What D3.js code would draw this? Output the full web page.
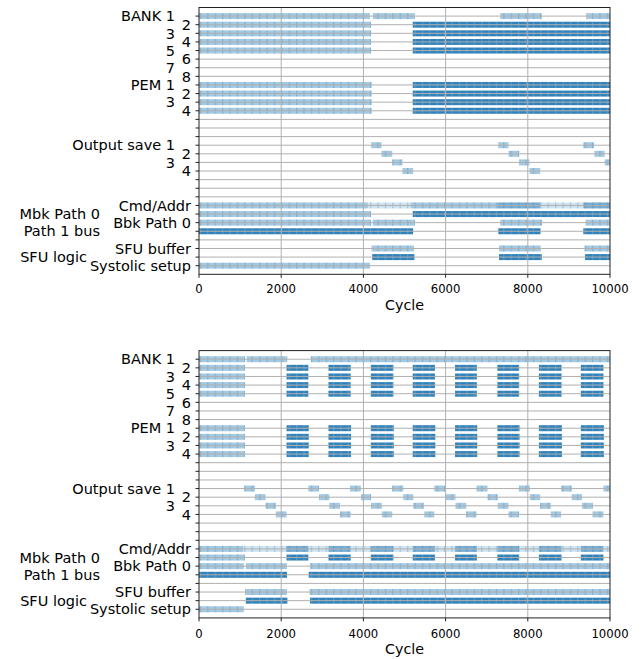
<!DOCTYPE html>
<html>
<head>
<meta charset="utf-8">
<script src="https://cdn.jsdelivr.net/npm/d3@7/dist/d3.min.js"></script>
<style>
  html, body { margin: 0; padding: 0; background: #fff; }
  text { font-family: "DejaVu Sans", sans-serif; fill: #000; }
</style>
</head>
<body>
<svg id="chart" width="642" height="659"></svg>
<script>
// ---------------- DATA ----------------
const rowLabels = ["BANK 1","2","3","4","5","6","7","8","PEM 1","2","3","4","","","",
  "Output save 1","2","3","4","","","","Cmd/Addr","Mbk Path 0","Bbk Path 0","Path 1 bus","",
  "SFU buffer","SFU logic","Systolic setup"];
const xTicks = [0, 2000, 4000, 6000, 8000, 10000];
const xLabel = "Cycle";

// intervals: [start, end, level]  level: f=faint, l=light, m=medium, d=dark
// ---- top panel ----
const topBank1 = [[0,4160,"l"],[4230,5250,"l"],[7330,8340,"l"],[9420,10000,"l"]];
const topBank2to5 = [[0,4185,"l"],[5200,10000,"d"]];
const topPEM = [[0,4200,"l"],[5200,10000,"d"]];
const topOutputSave1 = [[4190,4440,"l"],[7280,7530,"l"],[9350,9610,"l"]];
const topOutputSave2 = [[4440,4700,"l"],[7530,7790,"l"],[9620,9870,"l"]];
const topOutputSave3 = [[4700,4950,"l"],[7790,8040,"l"],[9870,10000,"l"]];
const topOutputSave4 = [[4950,5210,"l"],[8040,8300,"l"]];
const topCmdAddr = [[0,4110,"l"],[4110,5150,"f"],[5150,7260,"l"],[7260,8300,"m"],[8300,9350,"f"],[9350,10000,"m"]];
const topMbk = [[0,4185,"l"],[5200,10000,"d"]];
const topBbk = [[0,4185,"l"],[4225,5255,"l"],[7330,8350,"l"],[9410,10000,"l"]];
const topPath1 = [[0,5210,"d"],[7283,8310,"d"],[9350,10000,"d"]];
const topSfuBuffer = [[4200,5230,"l"],[7300,8310,"l"],[9380,10000,"l"]];
const topSfuLogic = [[4215,5240,"d"],[7300,8340,"d"],[9390,10000,"d"]];
const topSystolic = [[0,4160,"l"]];

// ---- bottom panel ----
const botBank1 = [[0,1120,"l"],[1160,2150,"l"],[2720,10000,"l"]];
const botBank2to5 = [[0,1120,"l"],[2130,2660,"d"],[3150,3690,"d"],[4180,4730,"d"],[5200,5740,"d"],
  [6230,6760,"d"],[7260,7790,"d"],[8270,8820,"d"],[9290,9840,"d"]];
const botPEM = [[0,1120,"l"],[2130,2670,"d"],[3150,3700,"d"],[4180,4740,"d"],[5200,5750,"d"],
  [6230,6770,"d"],[7260,7800,"d"],[8270,8830,"d"],[9290,9850,"d"]];
const botOutputSave1 = [[1100,1360,"l"],[2660,2920,"l"],[3675,3940,"l"],[4700,4970,"l"],[5725,5990,"l"],
  [6750,7020,"l"],[7785,8050,"l"],[8810,9070,"l"],[9840,10000,"l"]];
const botOutputSave2 = [[1360,1620,"l"],[2920,3170,"l"],[3940,4185,"l"],[4970,5215,"l"],[6000,6240,"l"],
  [7020,7270,"l"],[8050,8300,"l"],[9070,9320,"l"]];
const botOutputSave3 = [[1620,1870,"l"],[3170,3430,"l"],[4185,4450,"l"],[5215,5470,"l"],[6240,6500,"l"],
  [7270,7530,"l"],[8300,8560,"l"],[9320,9580,"l"]];
const botOutputSave4 = [[1870,2130,"l"],[3430,3690,"l"],[4450,4700,"l"],[5480,5725,"l"],[6500,6750,"l"],
  [7530,7785,"l"],[8560,8810,"l"],[9580,9840,"l"]];
const botCmdAddr = [[0,1070,"l"],[1070,2120,"f"],[2120,2660,"m"],[2660,3150,"f"],[3150,3690,"m"],
  [3690,4180,"f"],[4180,4730,"m"],[4730,5200,"f"],[5200,5740,"m"],[5740,6230,"f"],[6230,6760,"m"],
  [6760,7260,"f"],[7260,7790,"m"],[7790,8270,"f"],[8270,8820,"m"],[8820,9290,"f"],[9290,9840,"m"],
  [9840,10000,"f"]];
const botMbk = [[0,1120,"l"],[2130,2660,"d"],[3150,3690,"d"],[4180,4730,"d"],[5200,5740,"d"],
  [6230,6760,"d"],[7260,7790,"d"],[8270,8820,"d"],[9290,9840,"d"]];
const botBbk = [[0,1090,"l"],[1140,2140,"l"],[2700,10000,"l"]];
const botPath1 = [[0,2140,"d"],[2670,10000,"d"]];
const botSfuBuffer = [[1120,2140,"l"],[2690,10000,"l"]];
const botSfuLogic = [[1140,2150,"d"],[2700,10000,"d"]];
const botSystolic = [[0,1090,"l"]];

// row index -> intervals
const topRows = {0:topBank1,1:topBank2to5,2:topBank2to5,3:topBank2to5,4:topBank2to5,
  8:topPEM,9:topPEM,10:topPEM,11:topPEM,
  15:topOutputSave1,16:topOutputSave2,17:topOutputSave3,18:topOutputSave4,
  22:topCmdAddr,23:topMbk,24:topBbk,25:topPath1,27:topSfuBuffer,28:topSfuLogic,29:topSystolic};
const botRows = {0:botBank1,1:botBank2to5,2:botBank2to5,3:botBank2to5,4:botBank2to5,
  8:botPEM,9:botPEM,10:botPEM,11:botPEM,
  15:botOutputSave1,16:botOutputSave2,17:botOutputSave3,18:botOutputSave4,
  22:botCmdAddr,23:botMbk,24:botBbk,25:botPath1,27:botSfuBuffer,28:botSfuLogic,29:botSystolic};

// ---------------- STYLE / LAYOUT ----------------
const levelOpacity = {f:0.2, l:0.4, m:0.6, d:0.92};
const barColor = "#1f77b4";
const labelEnd = [175,191,175,191,175,191,175,191,175,191,175,191,191,191,191,
  175,191,175,191,191,191,191,191,100,191,100,191,191,87,191];
const panels = [
  {rows: topRows, top: 7.5, bottom: 274.3, tickBase: 292.5, labelBase: 310.2},
  {rows: botRows, top: 350.6, bottom: 617.9, tickBase: 638, labelBase: 654.2}
];

const svg = d3.select("#chart");
const defs = svg.append("defs");
const pL = defs.append("pattern").attr("id","texL").attr("patternUnits","userSpaceOnUse")
  .attr("width",7.4).attr("height",20);
pL.append("rect").attr("x",0).attr("y",0).attr("width",1.3).attr("height",20)
  .attr("fill",barColor).attr("fill-opacity",0.28);
const pD = defs.append("pattern").attr("id","texD").attr("patternUnits","userSpaceOnUse")
  .attr("width",7.4).attr("height",20);
pD.append("rect").attr("x",0).attr("y",0).attr("width",1.2).attr("height",20)
  .attr("fill","#fff").attr("fill-opacity",0.16);

const x = d3.scaleLinear().domain([0,10000]).range([199,610]);
const barH = 6;

panels.forEach(p => {
  const y = d3.scaleLinear().domain([-1,30]).range([p.top, p.bottom]);
  const g = svg.append("g");

  // bars
  const segs = [];
  Object.keys(p.rows).forEach(r => {
    p.rows[r].forEach(iv => segs.push({row:+r, s:iv[0], e:iv[1], lv:iv[2]}));
  });
  const bars = g.append("g");
  bars.selectAll("rect.bar").data(segs).enter().append("rect").attr("class","bar")
    .attr("x", d => x(d.s)).attr("width", d => x(d.e)-x(d.s))
    .attr("y", d => y(d.row)-barH/2).attr("height", barH)
    .attr("fill", barColor).attr("fill-opacity", d => levelOpacity[d.lv]);
  bars.selectAll("rect.tex").data(segs).enter().append("rect").attr("class","tex")
    .attr("x", d => x(d.s)).attr("width", d => x(d.e)-x(d.s))
    .attr("y", d => y(d.row)-barH/2).attr("height", barH)
    .attr("fill", d => d.lv === "d" ? "url(#texD)" : "url(#texL)");

  // grid (on top of bars)
  const grid = g.append("g").attr("stroke","#b0b0b0").attr("stroke-width",1);
  grid.selectAll("line.h").data(d3.range(rowLabels.length)).enter().append("line")
    .attr("x1", x(0)).attr("x2", x(10000))
    .attr("y1", d => y(d)).attr("y2", d => y(d));
  grid.selectAll("line.v").data(xTicks.slice(1,-1)).enter().append("line")
    .attr("x1", d => x(d)).attr("x2", d => x(d))
    .attr("y1", p.top).attr("y2", p.bottom);

  // frame
  g.append("rect").attr("x", x(0)).attr("y", p.top)
    .attr("width", x(10000)-x(0)).attr("height", p.bottom-p.top)
    .attr("fill","none").attr("stroke","#222").attr("stroke-width",1);

  // y ticks + labels
  const yt = g.append("g");
  yt.selectAll("line").data(d3.range(rowLabels.length)).enter().append("line")
    .attr("x1", x(0)-3.5).attr("x2", x(0)).attr("y1", d => y(d)).attr("y2", d => y(d))
    .attr("stroke","#222").attr("stroke-width",1);
  yt.selectAll("text").data(rowLabels.map((l,i)=>({l,i})).filter(d=>d.l)).enter().append("text")
    .attr("x", d => labelEnd[d.i]).attr("y", d => y(d.i)).attr("dy","0.36em")
    .attr("text-anchor","end").style("font-size","14.5px").text(d => d.l);

  // x ticks + labels
  const xt = g.append("g");
  xt.selectAll("line").data(xTicks).enter().append("line")
    .attr("x1", d => x(d)).attr("x2", d => x(d)).attr("y1", p.bottom).attr("y2", p.bottom+3.5)
    .attr("stroke","#222").attr("stroke-width",1);
  xt.selectAll("text").data(xTicks).enter().append("text")
    .attr("x", d => x(d)).attr("y", p.tickBase).attr("text-anchor","middle")
    .style("font-size","11.7px").text(d => d);
  g.append("text").attr("x", (x(0)+x(10000))/2).attr("y", p.labelBase)
    .attr("text-anchor","middle").style("font-size","14.3px").text(xLabel);
});
</script>
</body>
</html>
